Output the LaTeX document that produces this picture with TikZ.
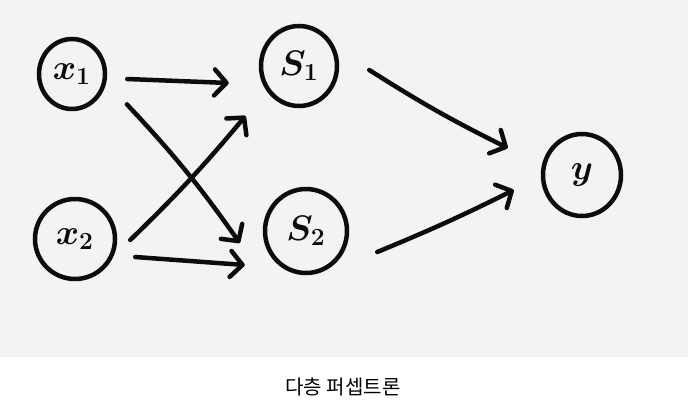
\documentclass[tikz,border=0pt]{standalone}
\usepackage{fontspec}
\newfontfamily\krfont{Noto Sans CJK KR}
\usetikzlibrary{arrows.meta,shapes.geometric}
\definecolor{bggray}{RGB}{243,243,243}
\definecolor{ink}{RGB}{12,12,12}
\newcommand{\nlab}[1]{\scalebox{2.05}{\boldmath$#1$}}
\begin{document}
\begin{tikzpicture}[x=1pt,y=-1pt,
  neuron/.style={draw=ink, line width=4.5pt, ellipse, inner sep=0pt, text=ink,
    font=\LARGE},
  arr/.style={draw=ink, line width=4.5pt, line cap=round,
    -{Straight Barb[length=12pt,width=26pt,round]}},
  caption/.style={font=\krfont\fontsize{20}{20}\selectfont, text=black}
]
\fill[bggray] (0,0) rectangle (688,357);
\useasboundingbox (0,0) rectangle (688,402);

\node[neuron, minimum width=66pt, minimum height=70pt] (x1) at (72,74)  {\nlab{x_1}};
\node[neuron, minimum width=80pt, minimum height=80pt] (x2) at (75,239) {\nlab{x_2}};
\node[neuron, minimum width=76pt, minimum height=80pt] (S1) at (299,66) {\nlab{S_1}};
\node[neuron, minimum width=82pt, minimum height=84pt] (S2) at (306,231) {\nlab{S_2}};
\node[neuron, minimum width=78pt, minimum height=82pt] (y)  at (582,175) {\nlab{y}};

\draw[arr] ([shift={(20,5)}]x1.east) -- ([shift={(-30,17)}]S1.west);
\draw[arr] ([shift={(30,4)}]x1.south east) to[bend left=4] ([shift={(-23,12)}]S2.west);
\draw[arr] ([shift={(13,1)}]x2.east) to[bend right=3] ([shift={(-25,20)}]S1.south west);
\draw[arr] ([shift={(18,18)}]x2.east) -- ([shift={(-18,34)}]S2.west);
\draw[arr] ([shift={(30,4)}]S1.east) to[bend right=3] ([shift={(-33,-27)}]y.west);
\draw[arr] ([shift={(28,21)}]S2.east) to[bend right=2] ([shift={(-27,15)}]y.west);

\node[caption] (cap) at (343,387) {다층 퍼셉트론};
\end{tikzpicture}
\end{document}
